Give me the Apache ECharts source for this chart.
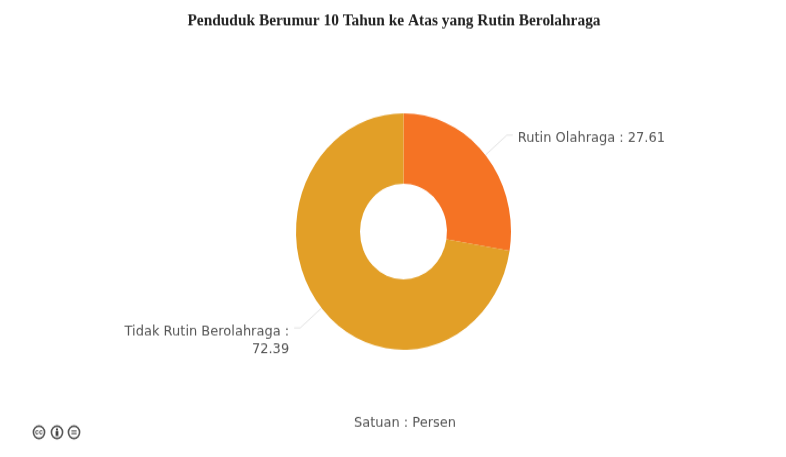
<!DOCTYPE html>
<html>
<head>
<meta charset="utf-8">
<style>
  html, body { margin: 0; padding: 0; background: #fff; width: 786px; height: 457px; }
  #frame { position: relative; width: 786px; height: 457px; overflow: hidden; }
  /* The plot is drawn on a shorter canvas and stretched vertically to fill the page. */
  #chart { position: absolute; left: 0; top: 0; width: 786px; height: 416px; transform: scaleY(1.1); transform-origin: 0 0; }
</style>
<script src="https://cdn.jsdelivr.net/npm/echarts@6/dist/echarts.min.js"></script>
</head>
<body>
<div id="frame"><div id="chart"></div></div>
<script>
const categories = ['Rutin Olahraga', 'Tidak Rutin Berolahraga'];
const values = [27.61, 72.39];
const sliceColors = ['#F57324', '#E29F27'];
const titleText = 'Penduduk Berumur 10 Tahun ke Atas yang Rutin Berolahraga';
const unitText = 'Satuan : Persen';

const chart = echarts.init(document.getElementById('chart'), null, { renderer: 'canvas' });

// Creative Commons badge: outlined circles with a small glyph inside each.
function badge(cx, cy, inner) {
  return {
    type: 'group', x: cx, y: cy,
    children: [{
      type: 'circle', shape: { cx: 0, cy: 0, r: 5.6 },
      style: { fill: '#fff', stroke: '#555', lineWidth: 1.6 }
    }].concat(inner)
  };
}

chart.setOption({
  animation: false,
  backgroundColor: '#fff',
  title: [
    {
      text: titleText, left: 389, textAlign: 'center', top: 7,
      textStyle: { fontFamily: 'Liberation Serif', fontSize: 15.4, fontWeight: 'bold', color: '#222' }
    },
    {
      text: unitText, left: 400, textAlign: 'center', top: 373,
      textStyle: { fontFamily: 'DejaVu Sans', fontSize: 13, fontWeight: 'normal', color: '#555' }
    }
  ],
  graphic: {
    elements: [
      badge(39, 393, [{ type: 'text', style: { text: 'cc', x: 0, y: 0, align: 'center', verticalAlign: 'middle', fontSize: 7, fontWeight: 'bold', fill: '#555' } }]),
      badge(57, 393, [
        { type: 'circle', shape: { cx: 0, cy: -2.6, r: 1.1 }, style: { fill: '#444' } },
        { type: 'rect', shape: { x: -1.4, y: -1.2, width: 2.8, height: 4.6 }, style: { fill: '#444' } }
      ]),
      badge(74, 393, [
        { type: 'rect', shape: { x: -2.6, y: -1.8, width: 5.2, height: 1.2 }, style: { fill: '#555' } },
        { type: 'rect', shape: { x: -2.6, y: 0.6, width: 5.2, height: 1.2 }, style: { fill: '#555' } }
      ])
    ]
  },
  series: [{
    type: 'pie',
    center: [403.5, 210.5],
    radius: [43.5, 107.5],
    startAngle: 90,
    clockwise: true,
    color: sliceColors,
    label: {
      show: true,
      fontFamily: 'DejaVu Sans',
      fontSize: 13,
      color: '#555',
      lineHeight: 16,
      formatter: p => p.dataIndex === 1 ? p.name + ' :\n' + p.value : p.name + ' : ' + p.value
    },
    labelLine: { show: true, length: 28, length2: 6, smooth: false, lineStyle: { color: '#e4e4e4', width: 1 } },
    labelLayout: p => p.dataIndex === 1 ? { dy: 11 } : { dy: 3 },
    emphasis: { disabled: true },
    data: categories.map((name, i) => ({
      name, value: values[i],
      label: { align: i === 1 ? 'right' : 'left' }
    }))
  }]
});
</script>
</body>
</html>
